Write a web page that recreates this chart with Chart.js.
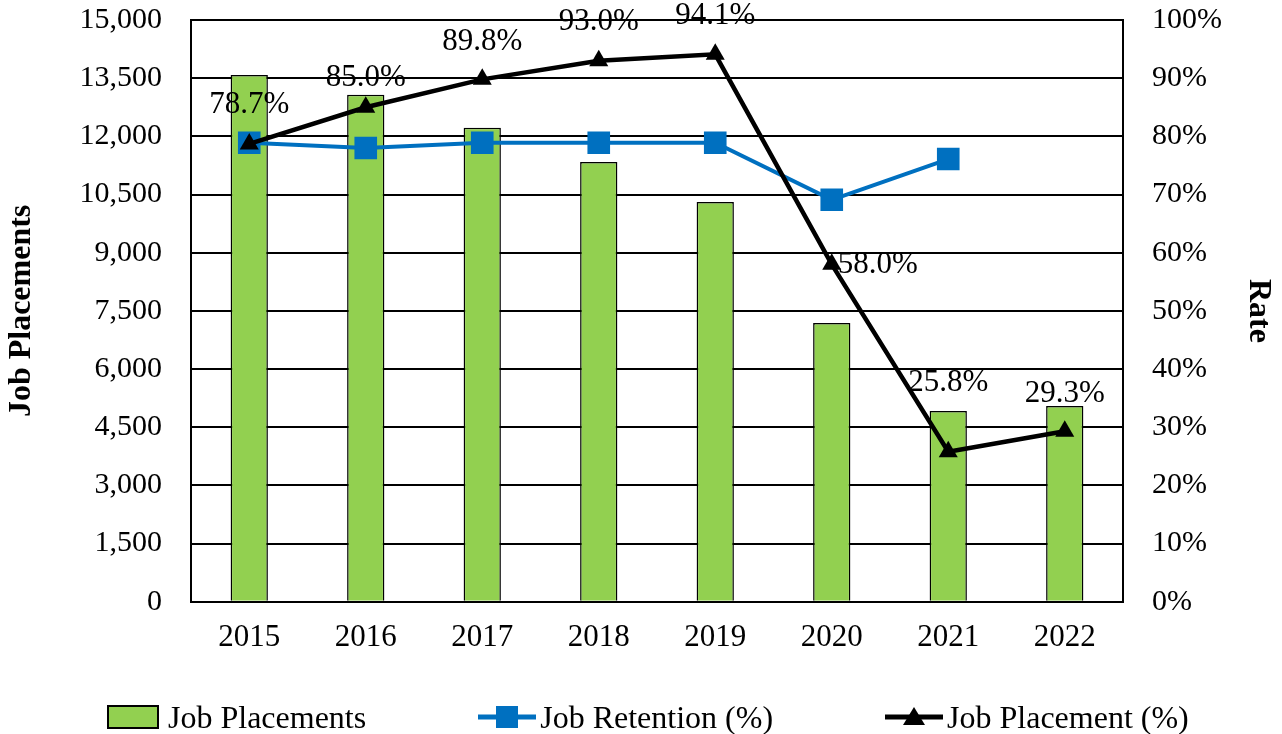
<!DOCTYPE html>
<html>
<head>
<meta charset="utf-8">
<script src="https://cdn.jsdelivr.net/npm/chart.js@4"></script>
<style>
  html, body { margin: 0; padding: 0; background: #fff; }
  #wrap { position: relative; width: 1282px; height: 734px; }
  #legend {
    position: absolute; left: 106px; top: 697px;
    display: flex; align-items: center; gap: 112px;
    font-family: "Liberation Serif", "Times New Roman", serif;
    font-size: 32px; color: #000; line-height: 40px; white-space: nowrap;
  }
  #legend .item { display: flex; align-items: center; }
  #legend canvas { margin-right: 2px; }
</style>
</head>
<body>
<div id="wrap">
  <canvas id="myChart"></canvas>
  <div id="legend"></div>
</div>
<script>
var years = ['2015', '2016', '2017', '2018', '2019', '2020', '2021', '2022'];
var placements = [13580, 13070, 12220, 11340, 10310, 7190, 4920, 5050];
var retention = [78.9, 78.0, 78.9, 78.9, 78.9, 69.1, 76.1, null];
var placementRate = [78.7, 85.0, 89.8, 93.0, 94.1, 58.0, 25.8, 29.3];

// where each placement-rate label sits relative to its point
var labelSide = ['top', 'top', 'top', 'top', 'top', 'right', 'top', 'top'];
var labelGap = [39, 29, 37, 39, 38, 6, 69, 37];

var serif = '"Liberation Serif", "Times New Roman", serif';
var green = '#92D050';
var blue = '#0070C0';

function legendIcon(kind) {
    var c = document.createElement('canvas');
    c.width = 60; c.height = 28;
    var g = c.getContext('2d');
    if (kind == 'bar') {
        g.fillStyle = green;
        g.fillRect(2, 3, 50, 22);
        g.strokeStyle = '#000';
        g.lineWidth = 2;
        g.strokeRect(2, 3, 50, 22);
    } else {
        var col = kind == 'rect' ? blue : '#000';
        g.strokeStyle = col;
        g.fillStyle = col;
        g.lineWidth = 5;
        g.beginPath(); g.moveTo(0, 14); g.lineTo(58, 14); g.stroke();
        g.beginPath();
        if (kind == 'rect') {
            g.rect(18, 3, 22, 22);
        } else {
            g.moveTo(29, 4); g.lineTo(40, 22); g.lineTo(18, 22); g.closePath();
        }
        g.fill();
    }
    return c;
}

var rateLabels = {
    id: 'rateLabels',
    afterDatasetsDraw: function(chart) {
        var ctx = chart.ctx;
        var meta = chart.getDatasetMeta(2);
        ctx.save();
        ctx.font = '31px ' + serif;
        ctx.fillStyle = '#000';
        ctx.textBaseline = 'middle';
        meta.data.forEach(function(pt, i) {
            var txt = placementRate[i].toFixed(1) + '%';
            if (labelSide[i] == 'right') {
                ctx.textAlign = 'left';
                ctx.fillText(txt, pt.x + labelGap[i], pt.y + 1);
            } else {
                ctx.textAlign = 'center';
                ctx.fillText(txt, pt.x, pt.y - labelGap[i]);
            }
        });
        ctx.restore();
    }
};

// fix axis widths and vertical padding so the plot box sits where the original is
function fitAxis(width) {
    return function(scale) {
        scale.width = width;
        scale.paddingTop = 20;
        scale.paddingBottom = 0;
    };
}

Chart.defaults.font.family = serif;
Chart.defaults.font.size = 30;
Chart.defaults.color = '#000';

var ctx = document.getElementById('myChart');
var chart = new Chart(ctx, {
    type: 'bar',
    data: {
        labels: years,
        datasets: [
            {
                label: 'Job Placements',
                data: placements,
                backgroundColor: green,
                borderColor: '#000',
                borderWidth: 1.5,
                barPercentage: 0.32,
                categoryPercentage: 1,
                yAxisID: 'y',
                order: 3
            },
            {
                type: 'line',
                label: 'Job Retention (%)',
                data: retention,
                borderColor: blue,
                backgroundColor: blue,
                borderWidth: 4,
                pointStyle: 'rect',
                pointRadius: 16,
                pointBorderWidth: 0,
                yAxisID: 'y1',
                order: 2
            },
            {
                type: 'line',
                label: 'Job Placement (%)',
                data: placementRate,
                borderColor: '#000',
                backgroundColor: '#000',
                borderWidth: 4.5,
                pointStyle: 'triangle',
                pointRadius: 11,
                pointBorderWidth: 0,
                yAxisID: 'y1',
                order: 1
            }
        ]
    },
    options: {
        responsive: true,
        maintainAspectRatio: false,
        animation: false,
        layout: { padding: { left: 3, right: 5, top: 0, bottom: 61 } },
        plugins: {
            tooltip: { enabled: false },
            legend: { display: false }
        },
        scales: {
            x: {
                grid: { display: false, drawTicks: false },
                border: { color: '#000', width: 2 },
                ticks: { padding: 17, font: { size: 31 } }
            },
            y: {
                position: 'left',
                min: 0,
                max: 15000,
                grid: { color: '#000', lineWidth: 2, drawTicks: false },
                border: { color: '#000', width: 2 },
                ticks: {
                    stepSize: 1500,
                    padding: 29,
                    callback: function(v) { return v.toLocaleString('en-US'); }
                },
                title: {
                    display: true,
                    text: 'Job Placements',
                    font: { size: 32, weight: 'bold' },
                    padding: { top: 0, bottom: 0 }
                },
                afterFit: fitAxis(188)
            },
            y1: {
                position: 'right',
                min: 0,
                max: 100,
                grid: { drawOnChartArea: false, drawTicks: false },
                border: { color: '#000', width: 2 },
                ticks: {
                    stepSize: 10,
                    padding: 29,
                    callback: function(v) { return v + '%'; }
                },
                title: {
                    display: true,
                    text: 'Rate',
                    font: { size: 32, weight: 'bold' },
                    padding: { top: 0, bottom: 0 }
                },
                afterFit: fitAxis(154)
            }
        }
    },
    plugins: [rateLabels]
});

// legend below the chart, built from the datasets
var kinds = ['bar', 'rect', 'tri'];
var legendBox = document.getElementById('legend');
chart.data.datasets.forEach(function(ds, i) {
    var item = document.createElement('div');
    item.className = 'item';
    item.appendChild(legendIcon(kinds[i]));
    var span = document.createElement('span');
    span.textContent = ds.label;
    item.appendChild(span);
    legendBox.appendChild(item);
});
</script>
</body>
</html>
